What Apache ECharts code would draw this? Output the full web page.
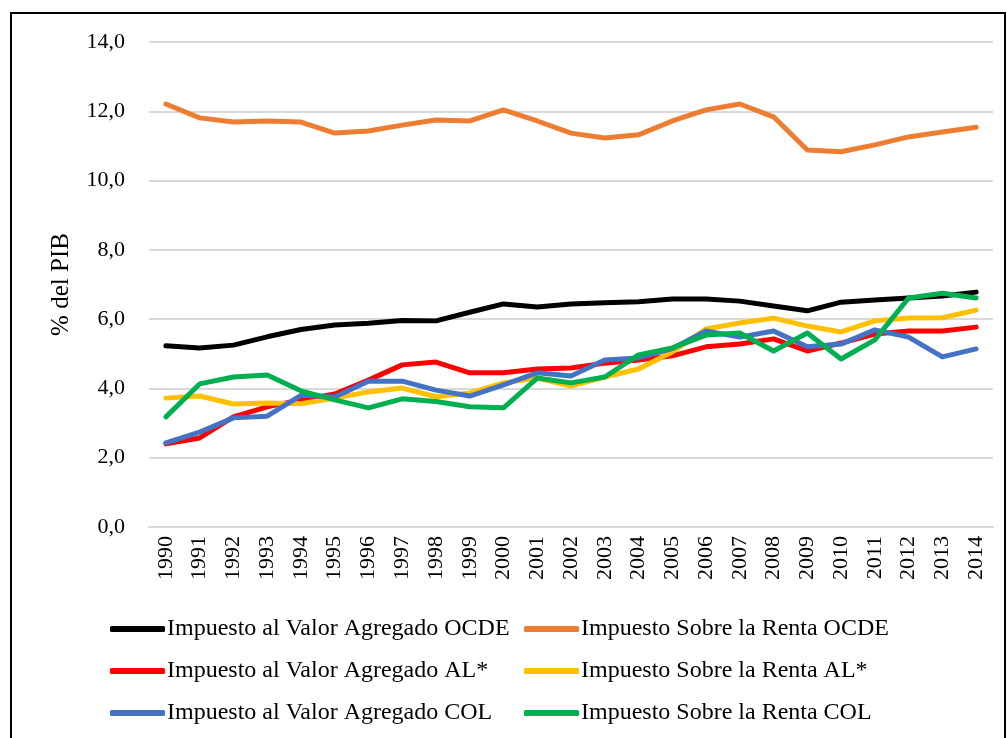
<!DOCTYPE html>
<html>
<head>
<meta charset="utf-8">
<script src="https://cdn.jsdelivr.net/npm/echarts@6/dist/echarts.min.js"></script>
<style>
  body { margin: 0; background: #fff; }
  #chart { position: absolute; left: 0; top: 0; width: 1007px; height: 738px; }
  #frame { position: absolute; left: 10px; top: 12px; width: 996px; height: 740px;
           border: 2px solid #000; box-sizing: border-box; pointer-events: none; }
</style>
</head>
<body>
<div id="chart"></div>
<div id="frame"></div>
<script>
// años
const years = ['1990','1991','1992','1993','1994','1995','1996','1997','1998','1999','2000','2001','2002',
               '2003','2004','2005','2006','2007','2008','2009','2010','2011','2012','2013','2014'];

// % del PIB
const ivaOcde   = [5.23,5.17,5.25,5.49,5.70,5.83,5.88,5.96,5.95,6.20,6.44,6.35,6.44,6.47,6.50,6.58,6.58,6.52,6.38,6.24,6.49,6.55,6.61,6.67,6.78];
const rentaOcde = [12.21,11.81,11.69,11.72,11.69,11.37,11.43,11.60,11.75,11.72,12.04,11.72,11.37,11.23,11.32,11.72,12.04,12.21,11.84,10.88,10.83,11.03,11.26,11.40,11.54];
const ivaAl     = [2.40,2.57,3.18,3.47,3.67,3.84,4.24,4.68,4.76,4.45,4.45,4.56,4.59,4.73,4.82,4.94,5.20,5.28,5.43,5.08,5.31,5.57,5.66,5.66,5.77];
const rentaAl   = [3.72,3.78,3.55,3.58,3.56,3.72,3.90,4.01,3.76,3.87,4.16,4.30,4.07,4.33,4.56,5.05,5.72,5.89,6.03,5.80,5.63,5.95,6.03,6.04,6.26];
const ivaCol    = [2.43,2.74,3.15,3.20,3.80,3.75,4.21,4.21,3.95,3.78,4.10,4.45,4.36,4.82,4.88,5.15,5.66,5.48,5.66,5.20,5.28,5.69,5.48,4.91,5.14];
const rentaCol  = [3.18,4.13,4.33,4.39,3.93,3.67,3.44,3.70,3.62,3.47,3.44,4.30,4.16,4.33,4.97,5.17,5.54,5.60,5.08,5.60,4.85,5.40,6.61,6.75,6.61];

const names = [
  'Impuesto al Valor Agregado OCDE', 'Impuesto Sobre la Renta OCDE',
  'Impuesto al Valor Agregado AL*', 'Impuesto Sobre la Renta AL*',
  'Impuesto al Valor Agregado COL', 'Impuesto Sobre la Renta COL'
];
const values = [ivaOcde, rentaOcde, ivaAl, rentaAl, ivaCol, rentaCol];
const colors = ['#000000', '#ed7d31', '#ff0000', '#ffc000', '#4472c4', '#00b050'];

const serif = '"Liberation Serif", "Times New Roman", serif';

const chart = echarts.init(document.getElementById('chart'));

// series en el orden en que se dibujan (COL encima)
const series = names.map((n, i) => ({
  name: n,
  type: 'line',
  data: values[i],
  symbol: 'none',
  lineStyle: { width: 5, color: colors[i], cap: 'round', join: 'round' },
  itemStyle: { color: colors[i] },
  z: 2 + i
}));

const legendBase = {
  orient: 'vertical',
  top: 612,
  itemWidth: 55,
  itemHeight: 6,
  itemGap: 18,
  icon: 'roundRect',
  textStyle: { fontFamily: serif, fontSize: 24, color: '#000', padding: [0, 0, 0, -3] }
};

chart.setOption({
  animation: false,
  grid: { left: 149, right: 14, top: 42, bottom: 211, containLabel: false },
  legend: [
    Object.assign({}, legendBase, { left: 105, data: [names[0], names[2], names[4]] }),
    Object.assign({}, legendBase, { left: 519, data: [names[1], names[3], names[5]] })
  ],
  xAxis: {
    type: 'category',
    data: years,
    boundaryGap: true,
    axisLine: { lineStyle: { color: '#d9d9d9', width: 2 } },
    axisTick: { show: false },
    axisLabel: { rotate: 90, margin: 9, color: '#000', fontFamily: serif, fontSize: 22 }
  },
  yAxis: {
    type: 'value',
    min: 0,
    max: 14,
    interval: 2,
    name: '% del PIB',
    nameLocation: 'middle',
    nameGap: 75,
    nameTextStyle: { fontFamily: serif, fontSize: 25, color: '#000' },
    axisLine: { show: false },
    axisTick: { show: false },
    axisLabel: {
      margin: 24, color: '#000', fontFamily: serif, fontSize: 22,
      formatter: v => v.toFixed(1).replace('.', ',')
    },
    splitLine: { lineStyle: { color: '#d9d9d9', width: 2 } }
  },
  series: series
});
</script>
</body>
</html>
